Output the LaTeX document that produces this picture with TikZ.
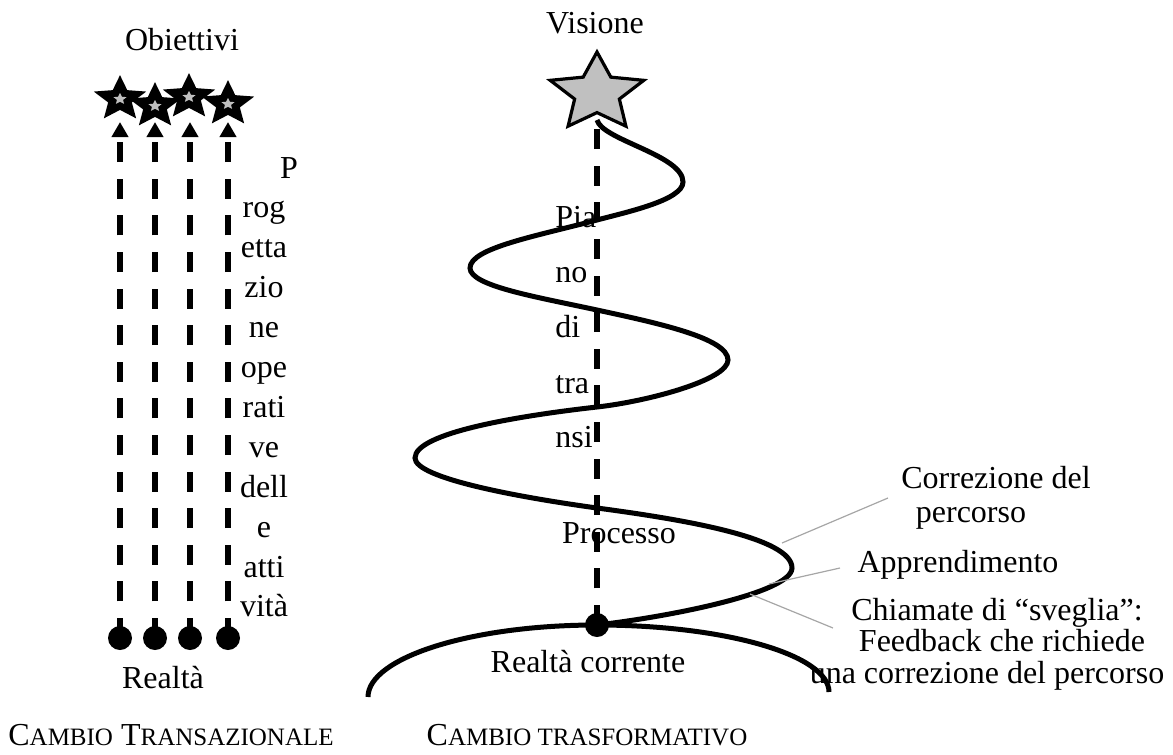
\documentclass[tikz,border=0pt]{standalone}
\usepackage{fontspec}
\setmainfont{Liberation Serif}
\usetikzlibrary{arrows.meta}
\definecolor{stargray}{HTML}{C0C0C0}
\definecolor{leadgray}{HTML}{A6A6A6}
\newcommand\mystarshape[6]{% x, y, R, r, xscale, style
  \begin{scope}[shift={(#1,#2)},xscale=#5]
    \path[#6] (90:#3) \foreach \k in {0,...,3}{ -- (126+72*\k:#4) -- (162+72*\k:#3)} -- (54:#4) -- cycle;
  \end{scope}}
\newcommand\smallcap[1]{{\fontsize{12.5pt}{15pt}\selectfont #1}}
\tikzset{
  lbl/.style={anchor=base, inner sep=0pt, font=\fontsize{16pt}{19pt}\selectfont},
  lblw/.style={lbl, anchor=base west},
  curve/.style={line width=2.5pt},
  dashline/.style={line width=2.6pt, dash pattern=on 10pt off 8.3pt},
  arrowline/.style={dashline, -{Triangle[width=8pt,length=7.5pt]}},
  leader/.style={draw=leadgray, line width=0.6pt},
  blackstar/.style={fill=black, draw=black, line width=0.8pt, line join=miter},
  innerstar/.style={fill=stargray},
  bigstar/.style={fill=stargray, draw=black, line width=1.6pt, line join=miter},
}
\begin{document}
\begin{tikzpicture}[x=0.5pt,y=-0.5pt]
\useasboundingbox (0,0) rectangle (1173,755);

% ---------- texts ----------
\node[lbl] (obj) at (182,50) {Obiettivi};
\node[lbl] (vis) at (595,33) {Visione};
\node[lbl] (real) at (163,688) {Realtà};
\node[lbl] (realc) at (588,672) {Realtà corrente};
\node[lbl] (proc) at (619,543) {Processo};
\node[lbl] (ct) at (171,745) {C\smallcap{AMBIO} T\smallcap{RANSAZIONALE}};
\node[lbl] (cf) at (587,745) {C\smallcap{AMBIO TRASFORMATIVO}};

\node[lbl] (p0) at (289,178) {P};
\foreach \t [count=\i] in {rog,etta,zio,ne,ope,rati,ve,dell,e,atti,vità}
  \node[lbl] (p\i) at (264,{178+39.9*\i}) {\t};

\node[lblw] (q1) at (555,227) {Pia};
\node[lblw] (q2) at (555,282) {no};
\node[lblw] (q3) at (555,337) {di};
\node[lblw] (q4) at (555,393) {tra};
\node[lblw] (q5) at (555,447) {nsi};

\node[lbl] (corr1) at (996,488) {Correzione del};
\node[lbl] (corr2) at (971,522) {percorso};
\node[lbl] (appr) at (958,572) {Apprendimento};
\node[lbl] (chi1) at (997,620) {Chiamate di “sveglia”:};
\node[lbl] (chi2) at (1002,651) {Feedback che richiede};
\node[lbl] (chi3) at (987,683) {una correzione del percorso};

% ---------- left: transactional change ----------
\foreach \x [count=\i] in {120,155,190,228}{
  \coordinate (d\i) at (\x,638);
  \coordinate (t\i) at (\x,122);
}
\foreach \i in {1,...,4}{
  \draw[arrowline] (d\i) -- (t\i);
  \fill (d\i) circle[radius=6pt];
}
\mystarshape{120}{99}{11pt}{5pt}{1.15}{blackstar}
\mystarshape{155}{106}{11pt}{5pt}{1.15}{blackstar}
\mystarshape{189}{97}{11pt}{5pt}{1.15}{blackstar}
\mystarshape{228}{104}{11pt}{5pt}{1.15}{blackstar}
\mystarshape{120}{99}{3pt}{1.4pt}{1.15}{innerstar}
\mystarshape{155}{106}{3pt}{1.4pt}{1.15}{innerstar}
\mystarshape{189}{97}{3pt}{1.4pt}{1.15}{innerstar}
\mystarshape{228}{104}{3pt}{1.4pt}{1.15}{innerstar}

% ---------- right: transformative change ----------
\coordinate (rd) at (597,625);
\coordinate (vb) at (597,112);
\coordinate (sp) at (597,120);
\draw[dashline] (rd) -- (vb);

\draw[curve] (sp)
  .. controls (602,140) and (683,155) .. (683,182)
  .. controls (683,200) and (627,212) .. (597,220)
  .. controls (537,236) and (470,248) .. (470,268)
  .. controls (470,286) and (537,297) .. (597,310)
  .. controls (657,323) and (728,338) .. (728,360)
  .. controls (728,380) and (647,401.5) .. (597,407)
  .. controls (517,416) and (415,433) .. (415,458)
  .. controls (415,478) and (517,497) .. (597,508)
  .. controls (687,520) and (792,538) .. (792,568)
  .. controls (792,593) and (667,617) .. (rd);

\coordinate (al) at (368,697);
\coordinate (ar) at (829,692);
\draw[curve] (al) .. controls (368,658) and (470,625) .. (rd)
  .. controls (725,625) and (829,655) .. (ar);
\fill (rd) circle[radius=6pt];

\mystarshape{597}{93}{20.5pt}{9.8pt}{1.2}{bigstar}

% ---------- leader lines ----------
\coordinate (l1a) at (782,543); \coordinate (l1b) at (888,498);
\coordinate (l2a) at (769,584); \coordinate (l2b) at (840,568);
\coordinate (l3a) at (750,594); \coordinate (l3b) at (833,628);
\draw[leader] (l1a) -- (l1b);
\draw[leader] (l2a) -- (l2b);
\draw[leader] (l3a) -- (l3b);
\end{tikzpicture}
\end{document}
